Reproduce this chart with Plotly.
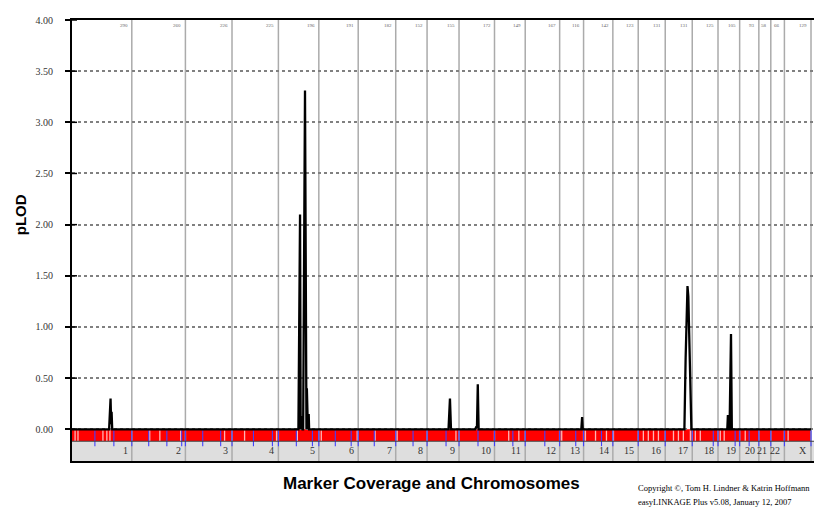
import plotly.graph_objects as go

# ---------------- data ----------------
chromosomes = ["1", "2", "3", "4", "5", "6", "7", "8", "9", "10", "11", "12",
               "13", "14", "15", "16", "17", "18", "19", "20", "21", "22", "X"]
chrom_lengths_cm = [290, 260, 226, 225, 196, 191, 182, 152, 155, 172, 149, 167,
                    116, 142, 123, 131, 131, 125, 105, 93, 58, 66, 129]

# genome-wide position (cM) and pLOD
pos_cm = [0, 180, 187, 190, 192, 195,
          1098, 1106, 1109, 1111, 1113, 1116, 1118, 1121, 1130, 1135, 1137, 1139, 1141, 1144, 1148, 1150,
          1826, 1833, 1838,
          1955, 1960, 1964, 1968, 1972,
          2470, 2474, 2477,
          2970, 2976, 2981, 2985, 2989, 2994, 3000, 3004,
          3178, 3181, 3184, 3189, 3196, 3200, 3584]
plod = [0, 0, 0.30, 0.05, 0.17, 0,
        0, 2.10, 0, 0.13, 0, 0.13, 0, 0, 3.31, 0.40, 0, 0.40, 0.15, 0, 0.15, 0,
        0, 0.30, 0,
        0, 0.02, 0.02, 0.44, 0,
        0, 0.12, 0,
        0, 0.70, 1.25, 1.40, 1.30, 0.80, 0.20, 0,
        0, 0.14, 0, 0, 0.93, 0, 0]

y_tick_vals = [0, 0.5, 1.0, 1.5, 2.0, 2.5, 3.0, 3.5, 4.0]
y_tick_text = ["0.00", "0.50", "1.00", "1.50", "2.00", "2.50", "3.00", "3.50", "4.00"]

# marker coverage band details (cM)
coverage_gaps_cm = [15, 29, 150, 169, 184, 377, 426, 527, 740, 837, 992, 1093, 1209,
                    1383, 1470, 1577, 1862, 2118, 2167, 2375, 2490, 2539, 2592, 2626,
                    2771, 2795, 2820, 2844, 2917, 2941, 2965, 2999, 3023, 3047, 3144,
                    3163, 3265, 3473]
band_ticks_cm = [111, 203, 372, 460, 532, 634, 721, 880, 972, 1088, 1166, 1277, 1354,
                 1466, 1654, 1814, 1969, 2138, 2293, 2443, 2568, 3110, 3216, 3284]

# ---------------- figure ----------------
OFF = 8                      # page body margin
W, H = 822 - OFF, 508 - OFF
PL, PR, PT, PB = 72, 816, 18, 461   # plot area in page pixels
L = PL - OFF
T = PT - OFF
R = W - (PR - OFF)
B = H - (PB - OFF)
plot_w = PR - PL
plot_h = PB - PT

def px_x(px):
    return (px - PL) / plot_w

def px_y(py):
    return (PB - py) / plot_h

total = sum(chrom_lengths_cm)
x_max = total * plot_w / (plot_w - 3)
y_min, y_max = -0.31, 4.0
red_bottom = -0.117

ends = []
acc = 0
for ln in chrom_lengths_cm:
    acc += ln
    ends.append(acc)

fig = go.Figure()
fig.add_trace(go.Scatter(x=pos_cm, y=plod, mode="lines",
                         line=dict(color="black", width=2.3),
                         hoverinfo="skip", showlegend=False))

shapes = []
shapes.append(dict(type="rect", xref="x", yref="y", x0=0, x1=total, y0=red_bottom, y1=0,
                   fillcolor="#ff0000", line=dict(width=0), layer="below"))
shapes.append(dict(type="rect", xref="x", yref="y", x0=0, x1=x_max, y0=y_min, y1=red_bottom,
                   fillcolor="#dedede", line=dict(width=0), layer="below"))
for e in ends:
    shapes.append(dict(type="line", xref="x", yref="y", x0=e, x1=e, y0=y_min, y1=y_max,
                       line=dict(color="#ababab", width=1.5), layer="below"))
for g in coverage_gaps_cm:
    shapes.append(dict(type="line", xref="x", yref="y", x0=g, x1=g, y0=red_bottom, y1=-0.01,
                       line=dict(color="#ffb4b4", width=1.3), layer="below"))
for t in band_ticks_cm + ends:
    shapes.append(dict(type="line", xref="x", yref="y", x0=t, x1=t, y0=-0.165, y1=-0.01,
                       line=dict(color="#4040ff", width=1.1), layer="below"))
shapes.append(dict(type="line", xref="x", yref="y", x0=0, x1=x_max, y0=red_bottom, y1=red_bottom,
                   line=dict(color="#404040", width=1), layer="below"))
for v in y_tick_vals:
    shapes.append(dict(type="line", xref="paper", yref="y", x0=0, x1=5 / plot_w, y0=v, y1=v,
                       line=dict(color="black", width=1.5)))

annotations = []
for name, ln, e in zip(chromosomes, chrom_lengths_cm, ends):
    annotations.append(dict(x=e, y=-0.21, xref="x", yref="y", text=name, showarrow=False,
                            xanchor="right", yanchor="middle", xshift=-2,
                            font=dict(family="Liberation Serif", size=10, color="#333333")))
    annotations.append(dict(x=e, y=3.95, xref="x", yref="y", text=str(ln), showarrow=False,
                            xanchor="right", yanchor="middle", xshift=-2,
                            font=dict(family="Liberation Serif", size=5, color="#666666")))

annotations.append(dict(x=px_x(20), y=px_y(214), xref="paper", yref="paper", text="<b>pLOD</b>",
                        showarrow=False, textangle=-90, xanchor="center", yanchor="middle",
                        font=dict(family="Liberation Sans", size=15, color="black")))
annotations.append(dict(x=px_x(432), y=px_y(484), xref="paper", yref="paper",
                        text="<b>Marker Coverage and Chromosomes</b>",
                        showarrow=False, xanchor="center", yanchor="middle",
                        font=dict(family="Liberation Sans", size=17, color="black")))
annotations.append(dict(x=px_x(638), y=px_y(488), xref="paper", yref="paper",
                        text="Copyright ©, Tom H. Lindner &amp; Katrin Hoffmann",
                        showarrow=False, xanchor="left", yanchor="middle",
                        font=dict(family="Liberation Serif", size=8.5, color="black")))
annotations.append(dict(x=px_x(638), y=px_y(502), xref="paper", yref="paper",
                        text="easyLINKAGE Plus v5.08, January 12, 2007",
                        showarrow=False, xanchor="left", yanchor="middle",
                        font=dict(family="Liberation Serif", size=8.5, color="black")))

fig.update_layout(
    width=W, height=H,
    margin=dict(l=L, r=R, t=T, b=B, pad=0),
    paper_bgcolor="white", plot_bgcolor="white",
    showlegend=False,
    shapes=shapes,
    annotations=annotations,
    xaxis=dict(range=[0, x_max], showgrid=False, zeroline=False, showticklabels=False,
               ticks="", showline=True, linecolor="black", linewidth=2, mirror=True,
               fixedrange=True),
    yaxis=dict(range=[y_min, y_max], tickvals=y_tick_vals, ticktext=y_tick_text,
               showgrid=True, gridcolor="#808080", gridwidth=1.5, griddash="dot",
               zeroline=False, showline=True, linecolor="black", linewidth=2, mirror=True,
               ticks="outside", ticklen=5, tickwidth=1.5, tickcolor="black",
               ticklabelstandoff=10,
               tickfont=dict(family="Liberation Serif", size=10, color="#333333"),
               fixedrange=True),
)

fig.write_html("out.html")
